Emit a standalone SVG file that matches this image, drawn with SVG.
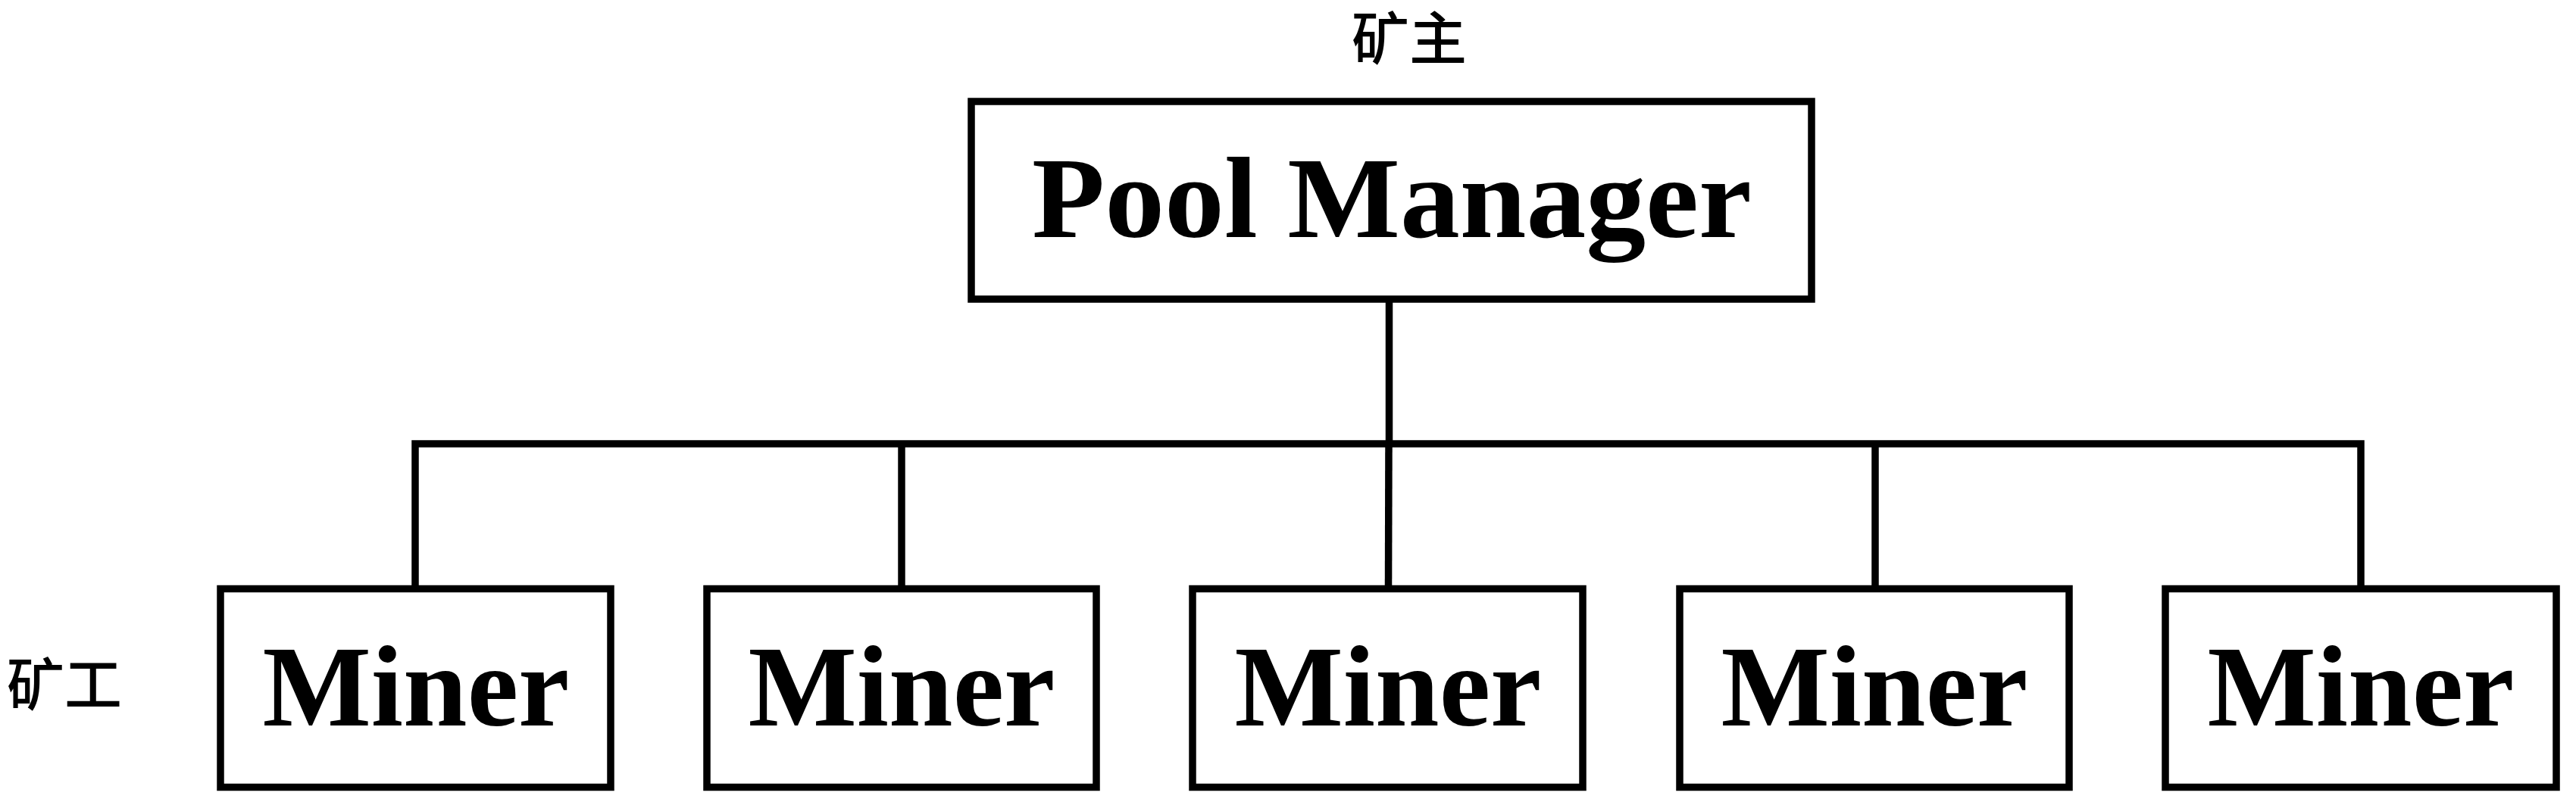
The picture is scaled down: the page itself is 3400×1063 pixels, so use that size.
<svg xmlns="http://www.w3.org/2000/svg" width="3400" height="1063" viewBox="0 0 3400 1063">
<style>
.box{fill:#fff;stroke:#000;stroke-width:9.5}
.ln{fill:none;stroke:#000;stroke-width:9.5;stroke-linejoin:miter;stroke-linecap:butt}
.big{font-family:"Liberation Serif","Times New Roman",serif;font-weight:bold;font-size:152px;fill:#000;text-anchor:middle}
.cjk{font-family:"Noto Sans CJK SC","Noto Sans",sans-serif;font-size:76px;font-weight:500;fill:#000}
</style>
<rect width="3400" height="1063" fill="#fff"/>
<g id="connectors">
<line class="ln" x1="1833.5" y1="395" x2="1833.5" y2="586"/>
<polyline class="ln" points="548,778 548,586 3116,586 3116,778"/>
<line class="ln" x1="1190" y1="586" x2="1190" y2="778"/>
<line class="ln" x1="1833" y1="586" x2="1832.5" y2="778"/>
<line class="ln" x1="2475" y1="586" x2="2475" y2="778"/>
</g>
<g id="label-owner"><text class="cjk" x="1860" y="79" text-anchor="middle">矿主</text></g>
<g id="label-miner"><text class="cjk" x="9" y="932">矿工</text></g>
<g id="pool-manager">
<rect class="box" x="1282" y="134" width="1109" height="261"/>
<text class="big" x="1837" y="313" textLength="950" lengthAdjust="spacingAndGlyphs">Pool Manager</text>
</g>
<g id="miner-1"><rect class="box" x="291" y="777.5" width="515" height="262"/><text class="big" x="549" y="958">Miner</text></g>
<g id="miner-2"><rect class="box" x="933" y="777.5" width="514" height="262"/><text class="big" x="1190" y="958">Miner</text></g>
<g id="miner-3"><rect class="box" x="1574" y="777.5" width="515" height="262"/><text class="big" x="1832" y="958">Miner</text></g>
<g id="miner-4"><rect class="box" x="2217" y="777.5" width="514" height="262"/><text class="big" x="2474" y="958">Miner</text></g>
<g id="miner-5"><rect class="box" x="2858" y="777.5" width="516" height="262"/><text class="big" x="3116" y="958">Miner</text></g>
</svg>
